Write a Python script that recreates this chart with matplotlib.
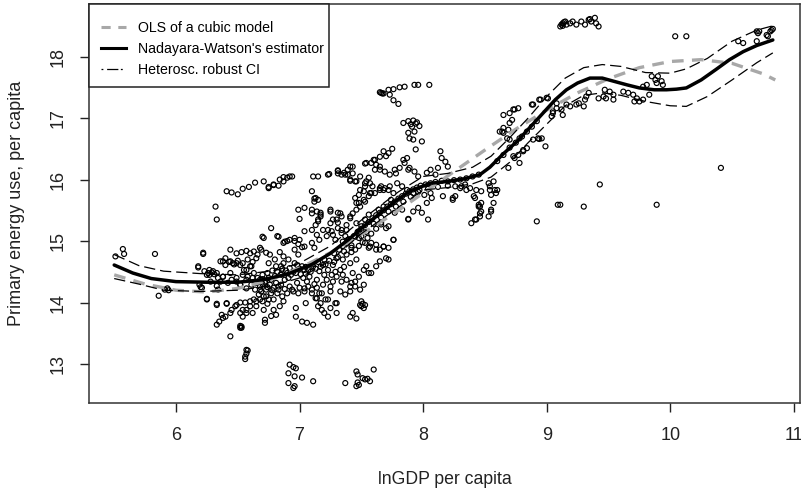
import matplotlib
matplotlib.use("Agg")
import matplotlib.pyplot as plt
from matplotlib.lines import Line2D
from matplotlib.patches import Rectangle

plt.rcParams['font.family'] = ['Liberation Sans', 'DejaVu Sans']

# ---------------- data ----------------
far_left = [(5.51,14.75),(5.57,14.87),(5.58,14.79),(5.83,14.79),(5.86,14.11),(5.91,14.21),(5.94,14.20),
            (5.93,14.23),(6.22,14.79),(6.22,14.81),(6.18,14.57),(6.25,14.06),(6.26,14.48),(6.29,14.49),
            (6.31,14.46),(6.19,14.29),(6.20,14.25),(6.36,14.34),(6.33,13.96),(6.41,13.98),(6.40,13.77),
            (6.32,15.56),(6.33,15.35),(6.18,14.59),(6.23,14.51)]

top_row = [(6.41,15.81),(6.45,15.79),(6.50,15.76),(6.54,15.85),(6.59,15.88),(6.64,15.95),(6.71,15.97),
           (6.75,15.88),(6.79,15.91),(6.84,16.00),(6.87,16.04),(6.92,16.05),(7.11,16.05),(7.15,16.05),
           (7.24,16.09),(7.31,16.14)]

low_outliers = [(6.56,13.12),(6.56,13.08),(6.57,13.17),(6.58,13.22),(6.57,13.23),(6.44,13.45),(6.52,13.59),
                (6.53,13.61),(6.35,13.69),(6.92,12.99),(6.95,12.95),(6.97,12.93),(6.91,12.85),(6.96,12.80),
                (7.02,12.78),(6.91,12.69),(6.95,12.61),(6.96,12.64),(7.11,12.72),(7.37,12.69),(7.46,12.88),
                (7.47,12.83),(7.46,12.64),(7.48,12.66),(7.53,12.75),(7.57,12.72),(7.60,12.91),(7.55,12.76),
                (7.51,12.77),(7.47,12.70)]

mid_low = [(6.25,14.05),(6.33,13.98),(6.37,13.80),(6.41,13.99),(6.44,13.83),(6.48,13.94),(6.52,14.00),
           (6.54,13.88),(6.57,13.83),(6.60,13.94),(6.62,13.83),(6.56,14.00),(6.60,14.02),(6.53,13.59),
           (6.52,13.62),(6.33,13.64),(6.38,13.75),(6.72,13.72),(6.72,13.67),(6.71,13.88),(6.79,13.88),
           (6.81,13.80),(6.77,13.78),(6.84,13.94),(6.87,14.02),(6.97,13.91),(6.97,13.77),(7.02,13.69),
           (7.06,13.67),(7.11,13.64),(7.05,13.99),(7.13,14.07),(7.17,13.99),(7.18,13.88),(7.20,13.83),
           (7.23,13.77),(7.21,14.05),(7.30,13.99),(7.30,13.83),(7.25,13.91),(7.41,13.77),(7.43,13.83),
           (7.46,13.74),(7.49,13.96),(7.51,13.98),(7.50,13.94),(7.52,13.91),(6.63,14.05),(6.57,13.88),
           (6.65,13.94),(6.73,14.10),(6.54,13.77),(6.45,13.88),(6.49,13.96),(6.52,13.83)]

mid = [(6.65,14.32),(6.68,14.26),(6.69,14.18),(6.67,14.13),(6.71,14.10),(6.73,14.21),(6.76,14.29),
       (6.72,14.34),(6.68,14.05),(6.65,14.02),(6.75,14.05),(6.77,14.15),(6.79,14.24),(6.64,14.21),
       (6.61,14.29),(6.81,14.32),(6.83,14.21),(6.85,14.29),(6.88,14.37),(6.92,14.26),(6.95,14.18),
       (6.90,14.15),(6.98,14.32),(7.00,14.24),(7.04,14.18),(7.07,14.26),(7.10,14.21),(7.14,14.24),
       (7.16,14.15),(7.19,14.29),(7.22,14.37),(7.25,14.26),(7.27,14.34),(7.26,14.45),(7.30,14.42),
       (7.23,14.53),(7.19,14.61),(7.27,14.61),(7.33,14.53),(7.35,14.45),(7.38,14.37),(7.41,14.26),
       (7.45,14.34),(7.48,14.42),(7.43,14.48),(7.49,14.21),(7.52,14.29),(6.52,14.29),(6.49,14.34),
       (6.45,14.37),(6.38,14.42),(6.34,14.40),(6.27,14.45),(6.44,14.48),(6.54,14.45),(6.57,14.53),
       (6.61,14.59),(6.52,14.61),(6.46,14.64),(6.38,14.67),(6.27,14.53),(6.33,14.48),(6.75,14.64),
       (6.81,14.59),(6.87,14.64),(6.92,14.56),(6.98,14.61),(7.04,14.53),(7.11,14.59),(7.16,14.51),
       (6.85,14.45),(6.91,14.40),(7.03,14.40),(7.08,14.42),(7.14,14.37),(6.77,14.37),(6.83,14.26),
       (6.94,14.21),(6.99,14.15),(7.04,14.23),(7.10,14.15),(7.14,14.07),(7.18,14.15),(7.23,14.05),
       (7.29,13.99),(7.15,13.94),(7.34,14.34),(7.42,14.32),(7.45,14.26),(7.41,14.18),(7.37,14.13),
       (7.33,14.18),(7.52,14.53),(7.56,14.48),(7.50,14.02),(7.53,13.96),(6.85,14.59),(6.80,14.70),
       (6.91,14.70),(6.96,14.64),(7.02,14.59),(7.07,14.53),(7.41,14.64),(7.46,14.70),(7.54,14.59),
       (7.58,14.48),(7.62,14.59),(7.65,14.67),(7.25,14.18),(6.68,14.21),(6.68,14.37),(6.72,14.32),
       (6.63,14.48),(6.60,14.59),(6.55,14.53),(6.49,14.64),(6.44,14.67),(6.40,14.72),(6.36,14.67),
       (6.30,14.51),(6.25,14.45),(6.28,14.34),(6.21,14.24),(6.34,14.21),(6.33,14.27),(6.38,14.42),
       (6.42,14.32),(6.49,14.40),(6.57,14.37),(6.57,14.23),(6.52,14.29)]

dense_core = [(6.66,14.40),(6.70,14.45),(6.74,14.48),(6.78,14.52),(6.82,14.50),(6.86,14.55),(6.89,14.52),
              (6.93,14.45),(6.97,14.48),(7.01,14.46),(7.05,14.47),(7.09,14.50),(7.13,14.55),(7.17,14.58),
              (7.21,14.62),(7.24,14.68),(7.28,14.66),(7.31,14.74),(7.35,14.70),(7.38,14.78),(7.42,14.82),
              (7.45,14.86),(7.48,14.92),(7.51,14.98),(7.55,15.05),(7.58,15.12),(7.62,15.20),(7.66,15.30),
              (6.62,14.40),(6.58,14.42),(6.70,14.30),(6.74,14.25),(6.78,14.20),(6.82,14.15),(6.86,14.10),
              (6.70,14.02),(6.74,13.98),(6.79,14.05),(6.88,14.22),(7.06,14.34),(7.12,14.30),(7.20,14.45),
              (7.29,14.50),(7.36,14.58)]

upper_mid = [(6.44,14.86),(6.49,14.80),(6.53,14.82),(6.57,14.84),(6.60,14.80),(6.63,14.83),(6.66,14.78),
             (6.69,14.86),(6.70,15.07),(6.40,14.61),(6.43,14.66),(6.47,14.62),(6.50,14.68),(6.54,14.64),
             (6.58,14.70),(6.62,14.66),(6.65,14.72),(6.68,14.89),(6.71,15.05),(6.77,15.21),(6.82,15.08),
             (6.73,14.81),(6.76,14.78),(6.84,14.82),(6.87,14.75),(6.87,14.97),(6.90,15.00),(6.92,15.02),
             (6.96,15.00),(6.99,14.95),(7.02,14.90),(6.99,15.51),(7.04,15.54),(7.00,15.36),(7.13,15.26),
             (7.15,15.35),(7.17,15.43),(7.10,15.51),(7.15,15.67),(7.12,15.69),(7.10,15.81),(7.13,15.70),
             (7.17,15.46),(7.25,15.48),(7.31,15.46),(7.27,15.35),(7.04,15.16),(7.10,15.18),(7.14,15.10),
             (7.16,15.02),(7.10,14.97),(7.12,14.89),(7.19,15.18),(7.22,15.08),(7.26,15.16),(7.29,15.02),
             (7.31,15.21),(7.34,15.13),(7.38,15.18),(7.35,14.99),(7.39,15.02),(7.42,14.89),(7.45,15.07),
             (7.48,15.16),(7.50,15.24),(7.53,15.35),(7.56,15.43),(7.41,15.37),(7.43,15.45),(7.46,15.51),
             (7.49,15.56),(7.53,15.64),(7.56,15.73),(7.58,15.78),(7.46,15.29),(7.50,15.08),(7.53,14.97),
             (7.56,14.89),(7.58,14.97),(7.62,14.94),(7.65,14.86),(7.68,14.91),(7.72,14.89),(7.76,15.02),
             (7.70,15.21),(7.88,15.35),(7.72,14.70),(6.88,14.99),(6.96,15.05),(7.00,15.02),(7.04,14.91),
             (6.83,15.07),(6.96,14.86),(6.99,14.78),(7.23,15.18),(7.27,15.10),(7.33,15.45),(7.30,15.35),
             (7.34,15.18),(7.41,15.40),(7.46,15.62),(7.48,15.75),(7.52,15.81),(7.53,15.89),(7.54,15.97),
             (7.14,15.48),(7.17,15.40),(7.15,15.32),(7.10,15.45),(7.12,15.64),(7.25,15.51),(7.34,15.40),
             (7.25,15.29),(7.31,15.30),(7.38,15.26),(7.37,15.08)]

upper_row = [(6.75,15.86),(6.79,15.92),(6.83,15.90),(6.87,15.97),(6.90,16.03),(6.94,16.05),(7.23,16.08),
             (7.31,16.15),(7.36,16.11),(7.39,16.16),(7.43,16.21),(7.41,15.98),(7.53,16.26),(7.58,16.27),
             (7.61,16.16),(7.65,16.21),(7.69,16.13),(7.73,16.08),(7.78,16.10),(7.81,16.19),(7.85,16.27),
             (7.88,16.16),(7.45,15.97),(7.49,16.05),(7.53,15.94),(7.56,16.03),(7.59,15.89),(7.61,15.78),
             (7.65,15.83),(7.69,15.86),(7.72,15.83),(7.76,15.78),(7.31,16.10),(7.37,16.08),(7.43,16.10),
             (7.41,16.21),(7.54,16.27),(7.61,16.32),(7.65,16.37),(7.68,16.46),(7.72,16.43),(7.75,16.50),
             (7.70,16.38),(7.60,16.32),(7.62,16.24),(7.65,16.16),(7.77,16.16),(7.84,16.32),(7.87,16.35),
             (7.89,16.19),(7.93,16.13),(7.96,16.05),(8.03,16.11),(8.06,16.16),(8.10,16.08),(8.14,16.46),
             (8.15,16.35),(8.18,16.29),(8.20,16.21),(8.12,16.19),(7.34,16.08),(7.39,16.08),(7.41,16.00),
             (7.46,15.97),(7.57,15.94),(7.49,15.83),(7.45,15.70),(7.48,15.62),(7.52,15.67),(7.57,15.78),
             (7.65,15.86),(7.66,15.89),(7.68,15.83),(7.73,15.89),(7.79,15.94),(7.83,15.89),(7.87,15.83),
             (7.92,15.78),(7.97,15.83),(8.01,15.75),(8.06,15.78),(8.07,15.70),(8.03,15.62),(7.96,15.54),
             (7.92,15.48),(7.99,15.46),(8.04,15.35),(7.88,15.36),(7.83,15.51),(7.77,15.46),(7.72,15.24),
             (7.76,15.02),(7.68,14.91),(7.62,14.86),(7.57,14.91),(7.70,14.72),(7.64,15.51),(7.68,15.56),
             (7.74,15.67),(7.66,15.27)]

cluster_17 = [(7.65,17.42),(7.66,17.41),(7.67,17.40),(7.68,17.40),(7.72,17.46),(7.76,17.47),(7.81,17.50),
              (7.85,17.51),(7.93,17.54),(7.96,17.54),(8.05,17.54),(7.73,17.38),(7.76,17.29),(7.80,17.23),
              (7.84,16.92),(7.88,16.95),(7.92,16.96),(7.95,16.93),(7.97,16.87),(7.91,16.86),(7.93,16.78),
              (7.89,16.67),(7.92,16.65),(7.99,16.62),(7.94,16.49),(7.88,16.76),(7.90,16.90),(7.94,16.91)]

mid_right = [(8.16,15.73),(8.24,15.67),(8.26,15.73),(8.31,15.89),(8.35,15.83),(8.41,15.73),(8.43,15.35),
             (8.39,15.29),(8.45,15.56),(8.26,15.89),(8.30,15.86),(8.34,15.92),(8.38,15.86),(8.43,15.83),
             (8.47,15.81),(8.53,15.94),(8.57,15.97),(8.54,15.83),(8.58,15.83),(8.59,15.78),(8.55,15.75),
             (8.24,15.70),(8.42,15.70),(8.46,15.56),(8.45,15.59),(8.47,15.48),(8.55,15.48),(8.46,15.40),
             (8.42,15.35),(8.46,15.45),(8.47,15.62),(8.53,15.40),(8.55,15.51),(8.57,15.62),(8.54,15.89),
             (8.92,15.32),(9.09,15.59),(8.65,17.05),(8.70,17.08),(8.74,17.14),(8.77,17.16),(8.70,16.92),
             (8.69,16.81),(8.62,16.78),(8.65,16.76),(8.68,16.67),(8.70,16.65),(8.89,17.22),(8.94,17.30),
             (9.00,17.33),(9.05,17.11),(9.08,17.24),(8.93,16.67),(8.94,16.66),(8.89,16.65),(8.99,16.54),
             (8.84,16.51),(8.81,16.46),(8.78,16.27),(8.69,16.19),(8.77,16.40),(8.74,16.35),(8.60,15.83)]

right = [(9.01,17.32),(8.95,17.30),(8.88,17.22),(8.73,17.14),(8.72,16.97),(8.65,16.84),(8.64,16.78),
         (8.78,16.67),(8.96,16.67),(8.81,16.48),(8.73,16.38),(9.08,17.16),(9.05,17.08),(9.04,17.03),
         (9.12,17.14),(9.13,17.05),(9.16,17.22),(9.19,17.19),(9.24,17.22),(9.26,17.24),(9.30,17.19),
         (9.31,17.30),(9.32,17.35),(9.34,17.41),(9.42,17.32),(9.46,17.35),(9.48,17.32),(9.47,17.46),
         (9.51,17.43),(9.54,17.38),(9.54,17.30),(9.62,17.43),(9.66,17.41),(9.70,17.38),(9.73,17.32),
         (9.75,17.27),(9.71,17.27),(9.78,17.30),(9.83,17.38),(9.85,17.68),(9.88,17.62),(9.90,17.68),
         (9.93,17.60),(9.94,17.54),(9.89,17.57),(9.81,17.54),(9.78,17.51),(10.04,18.33),(10.13,18.33),
         (10.41,16.19),(9.89,15.59),(9.11,15.59),(9.30,15.56),(9.43,15.92),(10.55,18.25),(10.59,18.22),
         (10.70,18.41),(10.71,18.38),(10.72,18.41),(10.78,18.35),(10.81,18.41),(10.82,18.43),(10.83,18.45),
         (10.70,18.25),(10.79,18.33)]

top_cluster = [(9.11,18.49),(9.12,18.52),(9.13,18.54),(9.15,18.57),(9.16,18.52),(9.19,18.54),(9.21,18.57),
               (9.24,18.52),(9.28,18.57),(9.31,18.52),(9.34,18.60),(9.36,18.57),(9.39,18.63),(9.40,18.54),
               (9.42,18.49),(9.35,18.61),(9.13,18.50),(9.14,18.56)]

band = [(7.28,14.80),(7.32,14.86),(7.35,14.92),(7.38,14.97),(7.40,15.03),(7.44,15.08),(7.47,15.15),
        (7.50,15.20),(7.53,15.26),(7.56,15.31),(7.59,15.37),(7.62,15.42),(7.65,15.46),(7.68,15.50),
        (7.71,15.56),(7.74,15.60),(7.77,15.64),(7.80,15.69),(7.83,15.73),(7.86,15.77),(7.89,15.81),
        (7.92,15.84),(7.95,15.87),(7.98,15.90),(8.02,15.92),(8.06,15.94),(8.10,15.96),(8.15,15.98),
        (8.20,15.97),(8.25,15.99),(8.30,16.00),(8.35,16.02),(8.40,16.05),(8.45,16.08),(7.30,14.72),
        (7.36,14.83),(7.42,14.93),(7.48,15.05),(7.54,15.15),(7.60,15.28),(7.66,15.38),(7.72,15.48),
        (7.78,15.56),(7.84,15.64),(7.90,15.72),(7.96,15.80),(8.04,15.85),(8.12,15.88),(8.20,15.90),
        (6.95,14.50),(7.00,14.55),(7.05,14.58),(7.10,14.62),(7.15,14.66),(7.20,14.70),(6.70,14.38),
        (6.75,14.40),(6.80,14.43),(6.85,14.46),(6.90,14.48),(8.60,16.30),(8.65,16.40),(8.70,16.52),
        (8.75,16.60),(8.80,16.70),(8.84,16.78),(8.88,16.86),(8.92,16.95)]

# curves: x positions and estimated values
ols_x = [5.50, 5.75, 6.00, 6.25, 6.50, 6.75, 7.00, 7.25, 7.50, 7.75, 8.00, 8.25, 8.50, 8.75,
         9.00, 9.25, 9.50, 9.75, 10.00, 10.25, 10.50, 10.75, 10.85]
ols_y = [14.45, 14.30, 14.20, 14.17, 14.23, 14.36, 14.56, 14.81, 15.11, 15.43, 15.78, 16.13, 16.48,
         16.82, 17.13, 17.41, 17.64, 17.82, 17.92, 17.95, 17.89, 17.72, 17.62]

nw_x = [5.50, 5.65, 5.80, 6.00, 6.25, 6.50, 6.70, 6.90, 7.10, 7.25, 7.40, 7.52, 7.65, 7.79, 7.90,
        8.06, 8.20, 8.33, 8.46, 8.54, 8.65, 8.76, 8.87, 8.97, 9.07, 9.16, 9.25, 9.35, 9.45, 9.54,
        9.65, 9.75, 9.87, 9.97, 10.05, 10.13, 10.25, 10.37, 10.48, 10.59, 10.70, 10.83]
nw_y = [14.61, 14.48, 14.39, 14.34, 14.33, 14.33, 14.37, 14.46, 14.62, 14.80, 15.03, 15.24, 15.45,
        15.67, 15.82, 15.94, 15.97, 16.01, 16.08, 16.20, 16.42, 16.62, 16.86, 17.08, 17.30, 17.46,
        17.57, 17.65, 17.65, 17.60, 17.54, 17.49, 17.46, 17.46, 17.47, 17.49, 17.62, 17.79, 17.95,
        18.08, 18.18, 18.27]

ci_x = [5.50, 5.70, 5.90, 6.20, 6.50, 6.80, 7.00, 7.25, 7.50, 7.80, 8.00, 8.20, 8.40, 8.55, 8.70,
        8.85, 9.00, 9.15, 9.30, 9.45, 9.60, 9.80, 10.00, 10.13, 10.30, 10.50, 10.70, 10.83]
ci_upper = [14.78, 14.60, 14.51, 14.47, 14.45, 14.52, 14.64, 14.92, 15.34, 15.80, 16.05, 16.10,
            16.20, 16.38, 16.68, 17.00, 17.35, 17.65, 17.82, 17.87, 17.84, 17.74, 17.73, 17.80,
            17.97, 18.25, 18.43, 18.50]
ci_lower = [14.39, 14.30, 14.20, 14.18, 14.20, 14.28, 14.40, 14.68, 15.12, 15.55, 15.83, 15.87,
            15.93, 16.04, 16.28, 16.60, 16.90, 17.20, 17.37, 17.41, 17.37, 17.27, 17.20, 17.19,
            17.35, 17.62, 17.90, 18.06]

x_ticks = [6, 7, 8, 9, 10, 11]
y_ticks = [13, 14, 15, 16, 17, 18]
legend_labels = ["OLS of a cubic model", "Nadayara-Watson's estimator", "Heterosc. robust CI"]

# ---------------- drawing ----------------
W, H = 801, 496
fig = plt.figure(figsize=(W / 100, H / 100), dpi=100)
ax_l, ax_r, ax_t, ax_b = 89, 800, 4, 403
ax = fig.add_axes([ax_l / W, 1 - ax_b / H, (ax_r - ax_l) / W, (ax_b - ax_t) / H])
aw, ah = ax_r - ax_l, ax_b - ax_t

groups = [far_left, top_row, low_outliers, mid_low, mid, dense_core, upper_mid, upper_row,
          cluster_17, mid_right, right, top_cluster, band]
for g in groups:
    xs = [p[0] for p in g]
    ys = [p[1] for p in g]
    ax.scatter(xs, ys, s=13, facecolors='none', edgecolors='black', linewidths=0.85, zorder=2)

ax.plot(ols_x, ols_y, color='#a8a8a8', lw=2.4, dashes=(3.5, 2.5), zorder=3)
ax.plot(ci_x, ci_upper, color='black', lw=0.9, dashes=(9, 4), zorder=4)
ax.plot(ci_x, ci_lower, color='black', lw=0.9, dashes=(9, 4), zorder=4)
ax.plot(nw_x, nw_y, color='black', lw=2.5, solid_capstyle='round', zorder=5)

ax.set_xlim(5.296, 11.05)
ax.set_ylim(12.366, 18.855)
ax.set_xticks(x_ticks)
ax.set_yticks(y_ticks)
ax.set_xticklabels([str(v) for v in x_ticks], fontsize=13)
ax.set_yticklabels([str(v) for v in y_ticks], fontsize=13, rotation=90, va='center')
ax.tick_params(axis='x', direction='out', length=6.5, width=1, pad=11, colors='#222222')
ax.tick_params(axis='y', direction='out', length=6.5, width=1, pad=9.5, colors='#222222')
for sp in ax.spines.values():
    sp.set_linewidth(1.1)
    sp.set_color('#333333')

ax.set_xlabel("lnGDP per capita", fontsize=12.7, color='#222222')
ax.set_ylabel("Primary energy use, per capita", fontsize=13, color='#222222')
ax.xaxis.set_label_coords(0.5, -(471 - ax_b) / ah)
ax.yaxis.set_label_coords(-(ax_l - 25) / aw, 0.5)

# legend box (R style: box from the axes corner)
box_w, box_h = 240, 83
ax.add_patch(Rectangle((0, 1 - box_h / ah), box_w / aw, box_h / ah, transform=ax.transAxes,
                       facecolor='white', edgecolor='#222222', lw=1.1, zorder=6, clip_on=False))
handles = [Line2D([0], [0], color='#a8a8a8', lw=2.2, dashes=(3, 2.5)),
           Line2D([0], [0], color='black', lw=2.2),
           Line2D([0], [0], color='black', lw=0.9, dashes=(1.5, 3, 9, 2))]
leg = ax.legend(handles, legend_labels, loc='upper left',
                bbox_to_anchor=((101 - ax_l) / aw, 1 - (21 - ax_t) / ah),
                borderaxespad=0, borderpad=0, frameon=False,
                fontsize=10.2, handlelength=1.75, handletextpad=0.85, labelspacing=0.48)
leg.set_zorder(7)

fig.savefig("out.png", dpi=100)
